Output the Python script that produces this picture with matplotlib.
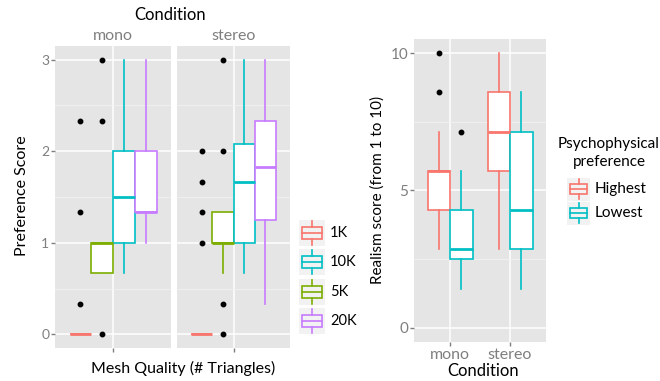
import matplotlib.pyplot as plt
from matplotlib.patches import Rectangle

plt.rcParams['font.family'] = ['Lato', 'DejaVu Sans']

# left chart: preference score by mesh quality, faceted by condition
quality = ["1K", "5K", "10K", "20K"]
quality_colors = ["#F8766D", "#7CAE00", "#00BFC4", "#C77CFF"]
legend_order = ["1K", "10K", "5K", "20K"]
facets = ["mono", "stereo"]

mono_q1 = [0, 0.667, 1.0, 1.333]
mono_med = [0, 1.0, 1.5, 1.333]
mono_q3 = [0, 1.0, 2.0, 2.0]
mono_lo = [0, 0.667, 0.667, 1.0]
mono_hi = [0, 1.0, 3.0, 3.0]
mono_out = [[0.333, 1.333, 2.333], [0, 2.333, 3], [], []]

stereo_q1 = [0, 1.0, 1.0, 1.25]
stereo_med = [0, 1.0, 1.667, 1.833]
stereo_q3 = [0, 1.333, 2.083, 2.333]
stereo_lo = [0, 0.667, 0.667, 0.333]
stereo_hi = [0, 1.333, 3.0, 3.0]
stereo_out = [[1.0, 1.333, 1.667, 2.0], [0, 0.333, 2.0, 3.0], [], []]

# right chart: realism score by condition and psychophysical preference
conditions = ["mono", "stereo"]
prefs = ["Highest", "Lowest"]
pref_colors = ["#F8766D", "#00BFC4"]
high_q1 = [4.286, 5.714]
high_med = [5.714, 7.143]
high_q3 = [5.714, 8.571]
high_lo = [2.857, 2.857]
high_hi = [7.143, 10.0]
high_out = [[8.571, 10.0], []]
low_q1 = [2.5, 2.857]
low_med = [2.857, 4.286]
low_q3 = [4.286, 7.143]
low_lo = [1.429, 1.429]
low_hi = [5.714, 8.571]
low_out = [[7.143], []]

W, H = 660, 381
fig = plt.figure(figsize=(W / 100, H / 100), dpi=100)
GRAY_TXT = "#7F7F7F"


def px_axes(x0, y0, x1, y1):
    return fig.add_axes([x0 / W, 1 - y1 / H, (x1 - x0) / W, (y1 - y0) / H])


def style(ax):
    ax.set_facecolor("#E5E5E5")
    ax.set_axisbelow(True)
    for s in ax.spines.values():
        s.set_visible(False)
    ax.grid(which="major", color="white", lw=1.1)
    ax.grid(which="minor", color="#F2F2F2", lw=0.6)
    ax.tick_params(which="major", direction="out", length=3, width=1,
                   color=GRAY_TXT, labelcolor=GRAY_TXT, labelsize=10, pad=1)
    ax.tick_params(which="minor", length=0)


def draw_box(ax, pos, width, q1, med, q3, lo, hi, out, color):
    st = [dict(q1=q1, med=med, q3=q3, whislo=lo, whishi=hi, fliers=out)]
    ax.bxp(st, positions=[pos], widths=[width], patch_artist=True,
           showcaps=False, manage_ticks=False,
           boxprops=dict(facecolor="white", edgecolor=color, lw=1.2),
           medianprops=dict(color=color, lw=2.0),
           whiskerprops=dict(color=color, lw=1.2),
           flierprops=dict(marker="o", markerfacecolor="black",
                           markeredgecolor="black", markersize=3.2))


def draw_key(x0, yc, size, color):
    kax = px_axes(x0, yc - size / 2, x0 + size, yc + size / 2)
    kax.set_xlim(0, 1)
    kax.set_ylim(0, 1)
    kax.set_facecolor("#F2F2F2")
    kax.set_xticks([])
    kax.set_yticks([])
    for s in kax.spines.values():
        s.set_visible(False)
    kax.add_patch(Rectangle((0.12, 0.27), 0.76, 0.46, fill=False,
                            edgecolor=color, lw=1.2))
    kax.plot([0.12, 0.88], [0.5, 0.5], color=color, lw=1.2)
    kax.plot([0.5, 0.5], [0.73, 0.95], color=color, lw=1.2)
    kax.plot([0.5, 0.5], [0.05, 0.27], color=color, lw=1.2)


# ---- left chart ----
facet_data = [
    (mono_q1, mono_med, mono_q3, mono_lo, mono_hi, mono_out),
    (stereo_q1, stereo_med, stereo_q3, stereo_lo, stereo_hi, stereo_out),
]
panel_x = [(55, 171), (177, 290)]
bw = 0.9 / len(quality)
for k, (name, data) in enumerate(zip(facets, facet_data)):
    ax = px_axes(panel_x[k][0], 46, panel_x[k][1], 348)
    style(ax)
    for i in range(len(quality)):
        pos = 1 + (i - (len(quality) - 1) / 2) * bw
        draw_box(ax, pos, bw, data[0][i], data[1][i], data[2][i],
                 data[3][i], data[4][i], data[5][i], quality_colors[i])
    ax.set_xlim(0.4, 1.6)
    ax.set_ylim(-0.15, 3.15)
    ax.set_xticks([1])
    ax.set_xticklabels([""])
    ax.set_yticks([0, 1, 2, 3])
    ax.set_yticks([0.5, 1.5, 2.5], minor=True)
    if k == 0:
        ax.set_yticklabels(["0", "1", "2", "3"])
    else:
        ax.set_yticklabels([])
        ax.tick_params(axis="y", length=0)
    fig.text((panel_x[k][0] + panel_x[k][1]) / 2 / W, 1 - 36 / H, name,
             ha="center", va="center", color=GRAY_TXT, fontsize=11.5)

fig.text(170 / W, 1 - 15 / H, "Condition", ha="center", va="center", fontsize=12)
fig.text(22 / W, 1 - 196 / H, "Preference Score", ha="center", va="center",
         rotation=90, fontsize=11.5)
fig.text(183 / W, 1 - 368 / H, "Mesh Quality (# Triangles)", ha="center",
         va="center", fontsize=11.5)

key_y = [233, 262, 292, 321]
for lab, yc in zip(legend_order, key_y):
    draw_key(299, yc, 26, quality_colors[quality.index(lab)])
    fig.text(330 / W, 1 - yc / H, lab, ha="left", va="center", fontsize=10.5)

# ---- right chart ----
ax = px_axes(414, 39, 546, 342)
style(ax)
bw2 = 0.75 / len(prefs)
pref_data = [
    (high_q1, high_med, high_q3, high_lo, high_hi, high_out),
    (low_q1, low_med, low_q3, low_lo, low_hi, low_out),
]
for j, data in enumerate(pref_data):
    for c in range(len(conditions)):
        pos = c + 1 + (j - 0.5) * bw2
        draw_box(ax, pos, bw2, data[0][c], data[1][c], data[2][c],
                 data[3][c], data[4][c], data[5][c], pref_colors[j])
ax.set_xlim(0.4, 2.6)
ax.set_ylim(-0.52, 10.52)
ax.set_xticks([1, 2])
ax.set_xticklabels(conditions, fontsize=11.5)
ax.set_yticks([0, 5, 10])
ax.set_yticks([2.5, 7.5], minor=True)
ax.set_yticklabels(["0", "5", "10"], fontsize=11)

fig.text(378 / W, 1 - 190 / H, "Realism score (from 1 to 10)", ha="center",
         va="center", rotation=90, fontsize=11)
fig.text(483 / W, 1 - 371 / H, "Condition", ha="center", va="center", fontsize=12)
fig.text(609 / W, 1 - 153 / H, "Psychophysical\npreference", ha="center",
         va="center", fontsize=11, linespacing=1.3)
for j, (lab, yc) in enumerate(zip(prefs, [189, 213])):
    draw_key(567, yc, 23, pref_colors[j])
    fig.text(595 / W, 1 - yc / H, lab, ha="left", va="center", fontsize=11)

fig.savefig("out.png", dpi=100)
